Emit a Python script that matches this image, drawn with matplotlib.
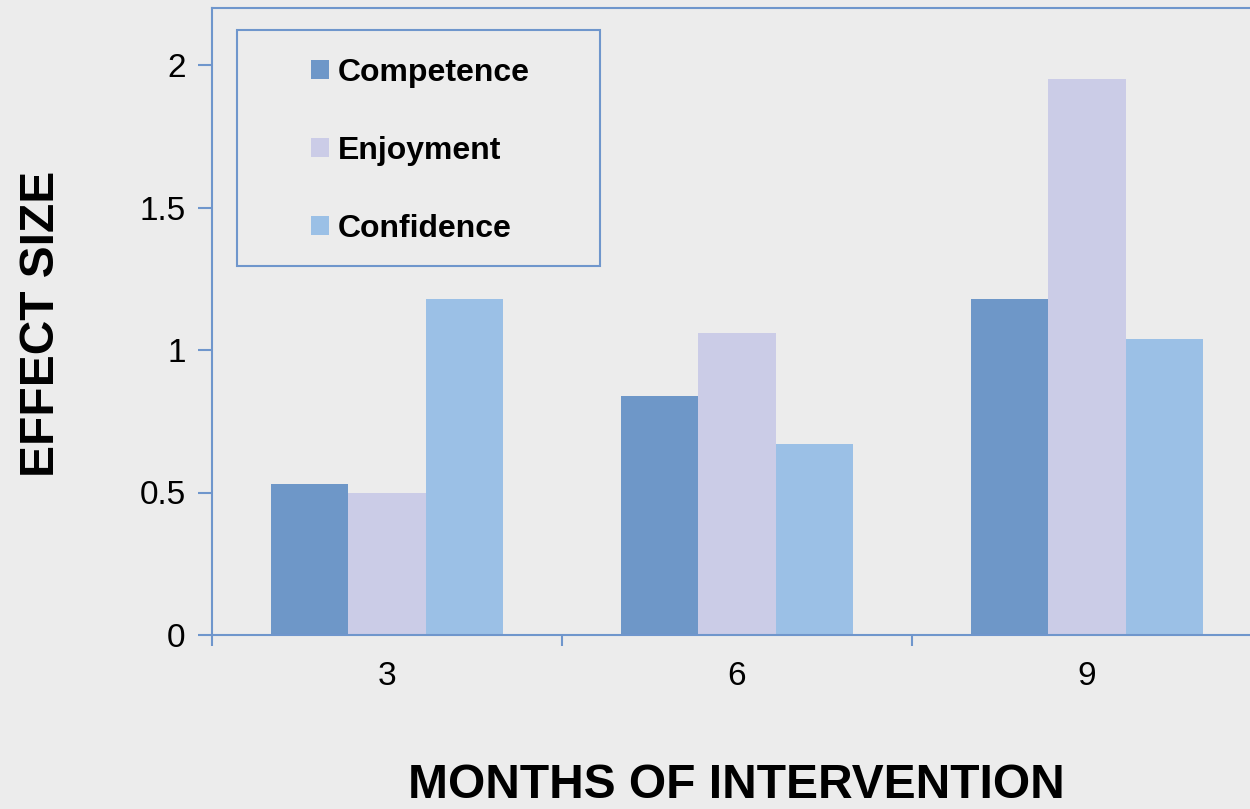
import matplotlib
matplotlib.use("Agg")
import matplotlib.pyplot as plt
from matplotlib.patches import Rectangle
import numpy as np

plt.rcParams['font.family'] = ['Liberation Sans', 'DejaVu Sans']

months = ["3", "6", "9"]
series = ["Competence", "Enjoyment", "Confidence"]
competence = [0.53, 0.84, 1.18]
enjoyment = [0.50, 1.06, 1.95]
confidence = [1.18, 0.67, 1.04]
colors = ["#6e97c8", "#cbcce7", "#9bc0e6"]
axis_blue = "#6f96cc"

fig = plt.figure(figsize=(12.5, 8.09), dpi=100)
fig.patch.set_facecolor("#ececec")

W, H = 1250, 809
ax = fig.add_axes([212 / W, 1 - 635 / H, 1050 / W, (635 - 8) / H])
ax.set_facecolor("none")

x = np.arange(len(months))
bw = 0.221
values = [competence, enjoyment, confidence]
for i, (name, vals, c) in enumerate(zip(series, values, colors)):
    ax.bar(x + (i - 1) * bw, vals, width=bw, color=c, label=name,
           edgecolor="none", zorder=2)

ax.set_xlim(-0.5, 2.5)
ax.set_ylim(0, 2.2)
ax.set_yticks([0, 0.5, 1, 1.5, 2])
ax.set_yticklabels(["0", "0.5", "1", "1.5", "2"])
ax.set_xticks(x)
ax.set_xticklabels(months)
ax.set_xticks([-0.5, 0.5, 1.5], minor=True)

for s in ax.spines.values():
    s.set_color(axis_blue)
    s.set_linewidth(1.5)
ax.spines['right'].set_visible(False)

ax.tick_params(axis='y', which='major', length=10, width=1.5, color=axis_blue,
               labelsize=24, pad=9, labelcolor='black')
ax.tick_params(axis='x', which='major', length=0, labelsize=24, pad=19,
               labelcolor='black')
ax.tick_params(axis='x', which='minor', length=8, width=1.5, color=axis_blue,
               direction='out')

# legend frame
ax.add_patch(Rectangle((237 / W, 1 - 266 / H), (600 - 237) / W, (266 - 30) / H,
                       transform=fig.transFigure, fill=False,
                       edgecolor=axis_blue, linewidth=1.5, zorder=5))
leg = fig.legend(loc='upper left', bbox_to_anchor=(311 / W, 1 - 58 / H),
                 frameon=False, prop={'weight': 'bold', 'size': 23},
                 handlelength=0.55, handleheight=0.55, handletextpad=0.3,
                 labelspacing=1.5, borderpad=0, borderaxespad=0)

fig.text(736 / W, 1 - 785 / H, "MONTHS OF INTERVENTION", ha='center',
         va='center', fontsize=34.5, fontweight='bold')
fig.text(42 / W, 1 - 324 / H, "EFFECT SIZE", ha='center', va='center',
         rotation=90, fontsize=34.5, fontweight='bold')

fig.savefig("out.png", dpi=100, facecolor=fig.get_facecolor())
